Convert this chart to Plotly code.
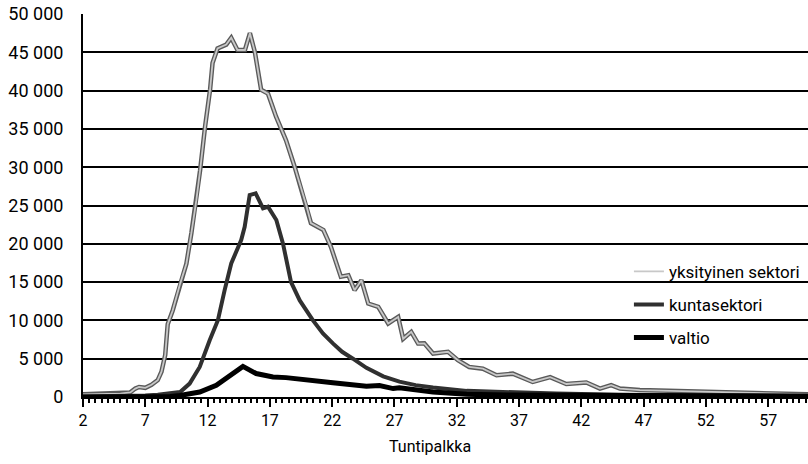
import plotly.graph_objects as go

# yksityinen sektori
x_yks = [2, 3, 4, 5, 5.8, 6.2, 6.5, 7, 7.5, 8, 8.3, 8.6, 8.8, 9.2, 9.8, 10.3, 10.7, 11.1, 11.4, 11.8,
         12.2, 12.4, 12.8, 13.5, 13.9, 14.4, 15.0, 15.4, 15.8, 16.3, 16.85, 17.5, 18.3, 19.0, 19.93, 20.3,
         21.3, 21.9, 22.7, 23.3, 23.8, 24.35, 24.9, 25.7, 26.5, 27.3, 27.7, 28.35, 28.9, 29.4, 30.1, 30.6,
         31.3, 32.1, 33.0, 34.1, 35.2, 36.5, 38.1, 39.5, 40.8, 42.4, 43.5, 44.4, 45.1, 46.7, 49.4, 52.0,
         54.7, 57.4, 60.2]
y_yks = [350, 400, 400, 450, 600, 1100, 1300, 1200, 1600, 2200, 3300, 5500, 9500, 11300, 14800, 17400,
         21400, 25700, 29600, 35300, 40100, 43600, 45500, 46000, 46900, 45300, 45300, 47500, 45000, 40100,
         39600, 36600, 33500, 30000, 25000, 22700, 21800, 19600, 15700, 15900, 13950, 15250, 12200, 11770,
         9600, 10460, 7600, 8500, 6980, 7000, 5670, 5800, 5900, 4800, 3920, 3700, 2840, 3050, 1960, 2600,
         1700, 1900, 1100, 1550, 1100, 900, 800, 650, 550, 440, 350]

# kuntasektori
x_kunta = [2, 4, 6, 7, 8, 9, 9.8, 10.56, 11.37, 12.17, 12.83, 13.37, 13.9, 14.7, 14.98, 15.38, 15.86,
           16.45, 16.85, 17.52, 18.05, 18.7, 19.4, 20.46, 21.26, 22.06, 22.8, 23.67, 24.75, 26.1, 27.4,
           28.7, 30.1, 32.8, 35.4, 40, 45, 50, 55, 60.2]
y_kunta = [50, 80, 150, 200, 300, 450, 650, 1750, 3920, 7400, 10030, 13950, 17440, 20490, 22230, 26370,
           26590, 24630, 24840, 23100, 20050, 15000, 12600, 10000, 8300, 7000, 5900, 5000, 3800, 2700,
           2000, 1550, 1230, 800, 650, 450, 300, 250, 200, 150]

# valtio
x_valtio = [2, 8, 9, 9.78, 10.5, 11.37, 12.7, 13.77, 14.84, 15.9, 17.25, 18.3, 19.4, 21.5, 22.06, 24.75,
            25.8, 26.9, 27.4, 30.1, 32.8, 36, 40, 50, 60.2]
y_valtio = [0, 20, 80, 200, 400, 650, 1530, 2840, 4000, 3060, 2620, 2530, 2300, 1960, 1850, 1400, 1500,
            1100, 1200, 650, 350, 250, 200, 150, 100]

x_ticks = [2, 7, 12, 17, 22, 27, 32, 37, 42, 47, 52, 57]

fnt = "Roboto, sans-serif"

fig = go.Figure()
# yksityinen: dark edge + light core
fig.add_trace(go.Scatter(x=x_yks, y=y_yks, mode='lines', line=dict(color='#5a5a5a', width=4.5),
                         legendgroup='a', showlegend=False, hoverinfo='skip'))
fig.add_trace(go.Scatter(x=x_yks, y=y_yks, mode='lines', name='yksityinen sektori',
                         line=dict(color='#c8c8c8', width=1.8), legendgroup='a'))
fig.add_trace(go.Scatter(x=x_kunta, y=y_kunta, mode='lines', name='kuntasektori',
                         line=dict(color='#303030', width=4), legendgroup='b'))
fig.add_trace(go.Scatter(x=x_valtio, y=y_valtio, mode='lines', name='valtio',
                         line=dict(color='black', width=5), legendgroup='c'))

fig.update_layout(
    width=808, height=464,
    margin=dict(l=83, r=0, t=14, b=67),
    plot_bgcolor='white', paper_bgcolor='white',
    separators=', ',
    font=dict(family=fnt, size=17, color='black'),
    legend=dict(x=0.753, y=0.374, xanchor='left', yanchor='top', bgcolor='rgba(0,0,0,0)',
                font=dict(size=17), tracegroupgap=8, itemwidth=30),
    showlegend=True,
    annotations=[dict(text='Tuntipalkka', x=0.479, y=-0.1305, xref='paper', yref='paper',
                      xanchor='center', yanchor='middle', showarrow=False, font=dict(size=16))],
)
fig.update_xaxes(range=[2, 60.2], tickvals=x_ticks, ticks='outside', ticklen=8, tickwidth=1.5,
                 tickcolor='black', showline=True, linecolor='black', linewidth=2, showgrid=False,
                 zeroline=False, tickfont=dict(size=16), automargin=False,
                 minor=dict(dtick=0.5, tick0=2, ticks='outside', ticklen=4, tickcolor='black', showgrid=False))
fig.update_yaxes(range=[0, 50000], dtick=5000, tickformat=',d', showgrid=True, gridcolor='black',
                 gridwidth=1.5, showline=True, linecolor='black', linewidth=2, zeroline=False,
                 ticks='', ticklabelstandoff=14, tickfont=dict(size=18), automargin=False)

# drop the default 8px page margin so the chart sits at the window's corner
fig.write_html("out.html", config={'displayModeBar': False},
               post_script="document.body.style.margin='0px';")
